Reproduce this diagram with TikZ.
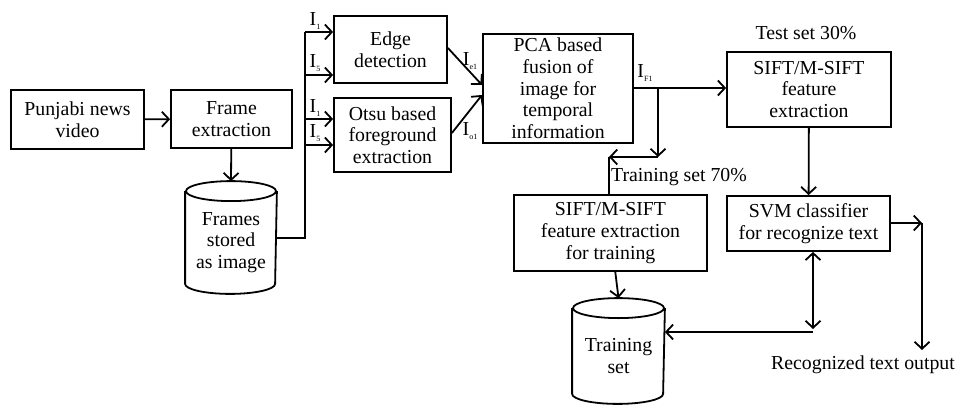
\documentclass[tikz,border=0pt]{standalone}
\usepackage{fontspec}
\setmainfont{Liberation Serif}
\usetikzlibrary{arrows.meta}
\usetikzlibrary{calc}

\newcommand{\img}[1]{I\raisebox{-0.35ex}{\fontsize{8}{8}\selectfont #1}}
% cylinder outline round a node: name, x radius
\newcommand{\drum}[2]{%
  \draw (#1.north west) -- ([yshift=10pt]#1.south west)
    arc[start angle=180, end angle=360, x radius=#2, y radius=10pt]
    -- (#1.north east);
  \draw (#1.north) ellipse[x radius=#2, y radius=10pt];}

\tikzset{
  blk/.style={draw, align=center, inner sep=0pt},
  store/.style={align=center, inner sep=0pt},
  lbl/.style={inner sep=0pt},
}

\begin{document}
\begin{tikzpicture}[x=1pt, y=-1pt, line width=1.8pt,
    font=\fontsize{19.8}{21.7}\selectfont,
    >={Straight Barb[length=7pt,width=15pt]}]
  \useasboundingbox (0,0) rectangle (955,404);

  % boxes
  \node[blk, minimum width=133pt, minimum height=59pt] (video) at (77.5,119.5) {Punjabi news\\video};
  \node[blk, minimum width=121pt, minimum height=58pt] (frame) at (231.5,119) {Frame\\extraction};
  \node[store, minimum width=90pt, minimum height=101pt] (frames) at (231,242.5) {Frames\\stored\\as image};
  \node[blk, minimum width=113pt, minimum height=67pt] (edge) at (390.5,49.5) {Edge\\detection};
  \node[blk, minimum width=117pt, minimum height=74pt] (otsu) at (392.5,135) {Otsu based\\foreground\\extraction};
  \node[blk, minimum width=150pt, minimum height=109pt] (pca) at (558,88.5) {PCA based\\fusion of\\image for\\temporal\\information};
  \node[blk, minimum width=164pt, minimum height=75pt] (test) at (809,89.5) {SIFT/M-SIFT\\feature\\extraction};
  \node[blk, minimum width=163pt, minimum height=55pt] (svm) at (808.5,223.5) {SVM classifier\\for recognize text};
  \node[blk, minimum width=193pt, minimum height=76pt] (train) at (610.5,233) {SIFT/M-SIFT\\feature extraction\\for training};
  \node[store, minimum width=91pt, minimum height=94pt] (tset) at (618.5,356) {Training\\set};
  \drum{frames}{45pt}
  \drum{tset}{45.5pt}

  % texts
  \node[lbl] (testlbl) at (806,33) {Test set 30\%};
  \node[lbl] (trainlbl) at (679,177) {Training set 70\%};
  \node[lbl] (outlbl) at (863,365) {Recognized text output};
  \node[lbl] (la) at (315,21) {\img{1}};
  \node[lbl] (lb) at (315,63) {\img{5}};
  \node[lbl] (lc) at (315,108) {\img{1}};
  \node[lbl] (ld) at (315,133) {\img{5}};
  \node[lbl] (le) at (470,61) {\img{e1}};
  \node[lbl] (lo) at (470,131) {\img{o1}};
  \node[lbl] (lf) at (645,73) {\img{F1}};

  % junctions
  \foreach \y/\n in {32/a,75/b,119/c,145/d}
    \coordinate (b\n) at (305,\y);
  \coordinate (pe) at (482,85);
  \coordinate (po) at (482,95);
  \coordinate (split) at (658,88);
  \coordinate (turn) at (658,157);
  \coordinate (down) at (609,157);
  \coordinate (corner) at (922,223);
  \coordinate (outend) at (922,350);
  \coordinate (loop) at (813,329);
  \coordinate (back) at (813,332);

  % connectors
  \draw[->] (video) -- (frame);
  \draw[->] (frame) -- ([yshift=10pt]frames.north);
  \draw (frames.east |- 0,238) -| (ba);
  \draw[->] (ba) -- (ba -| edge.west);
  \draw[->] (bb) -- (bb -| edge.west);
  \draw[->] (bc) -- (bc -| otsu.west);
  \draw[->] (bd) -- (bd -| otsu.west);
  \draw[->] (edge.east |- 0,48) -- (pe);
  \draw[->] (otsu.east |- 0,133) -- (po);
  \draw[->] (pca.east |- split) -- (test.west |- split);
  \draw[->] (split) -- (turn);
  \draw[->] (turn) -- (down);
  \draw (down) -- (train.north -| down);
  \draw[->] (test) -- (svm);
  \draw[->] (svm.east |- corner) -- (corner);
  \draw[->] (corner) -- (outend);
  \draw[<->] (svm.south -| loop) -- (loop);
  \draw[->] (back) -- (tset.east |- back);
  \draw[->] (train) -- ([yshift=10pt]tset.north);
\end{tikzpicture}
\end{document}
